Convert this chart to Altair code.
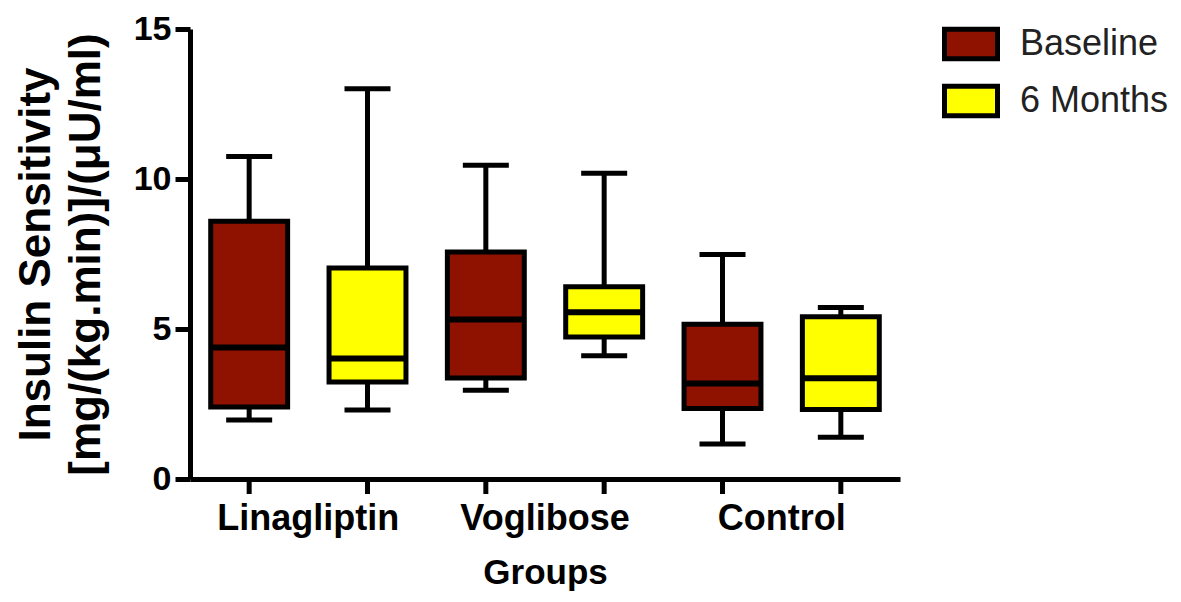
import altair as alt
import pandas as pd

groups = ["Linagliptin", "Linagliptin", "Voglibose", "Voglibose", "Control", "Control"]
periods = ["Baseline", "6 Months", "Baseline", "6 Months", "Baseline", "6 Months"]
whisker_low = [1.97, 2.30, 2.96, 4.11, 1.17, 1.39]
q1 = [2.40, 3.23, 3.37, 4.73, 2.35, 2.32]
median = [4.38, 4.02, 5.32, 5.56, 3.18, 3.36]
q3 = [8.59, 7.03, 7.57, 6.41, 5.16, 5.41]
whisker_high = [10.75, 13.01, 10.46, 10.19, 7.48, 5.72]

group_order = ["Linagliptin", "Voglibose", "Control"]
period_order = ["Baseline", "6 Months"]
period_colors = ["#8f1100", "#ffff00"]
y_ticks = [0, 5, 10, 15]
y_title = ["Insulin Sensitivity", "[mg/(kg.min)]/(\u03bcU/ml)"]
x_title = "Groups"

df = pd.DataFrame({
    "group": groups, "period": periods,
    "lo": whisker_low, "q1": q1, "med": median, "q3": q3, "hi": whisker_high,
})

FONT = "Liberation Sans"
W, H = 710, 450
LW = 5

xscale = alt.Scale(domain=group_order, paddingInner=0, paddingOuter=0)
oscale = alt.Scale(domain=period_order, paddingInner=0.35, paddingOuter=0.175)
yscale = alt.Scale(domain=[0, 15], nice=False)

x_axis = alt.Axis(
    title=x_title, labelAngle=0, labelOverlap=False, labelLimit=400,
    labelFontSize=36, labelFontWeight="bold", labelPadding=22,
    titleFontSize=35, titleFontWeight="bold", titlePadding=19, ticks=False,
)
y_axis = alt.Axis(
    values=y_ticks, title=y_title, titleFontSize=44, titleFontWeight="bold",
    titleLineHeight=50, titleAngle=270, titleAlign="center", titleBaseline="top",
    titleX=-176, titleY=H / 2, labelFontSize=34, labelFontWeight="bold",
    labelPadding=4, tickSize=15, grid=False,
)

X = alt.X("group:N", scale=xscale, sort=group_order, axis=x_axis)
XO = alt.XOffset("period:N", scale=oscale, sort=period_order)

base = alt.Chart(df)

whisker = base.mark_rule(color="black", strokeWidth=LW, opacity=1).encode(
    x=X, xOffset=XO, y=alt.Y("lo:Q", scale=yscale, axis=y_axis), y2="hi:Q"
)
xticks = base.mark_rule(color="black", strokeWidth=LW, opacity=1).encode(
    x=X, xOffset=XO, y=alt.value(H), y2=alt.value(H + 15)
)
cap_lo = base.mark_tick(color="black", size=46, thickness=LW, opacity=1).encode(
    x=X, xOffset=XO, y=alt.Y("lo:Q", scale=yscale)
)
cap_hi = base.mark_tick(color="black", size=46, thickness=LW, opacity=1).encode(
    x=X, xOffset=XO, y=alt.Y("hi:Q", scale=yscale)
)
box = base.mark_bar(stroke="black", strokeWidth=LW, opacity=1).encode(
    x=X, xOffset=XO,
    y=alt.Y("q1:Q", scale=yscale),
    y2="q3:Q",
    color=alt.Color(
        "period:N",
        scale=alt.Scale(domain=period_order, range=period_colors),
        legend=alt.Legend(
            title=None, orient="none", legendX=752, legendY=-14,
            symbolType="M-1,-0.56H1V0.56H-1Z", symbolSize=2809,
            symbolStrokeColor="black", symbolStrokeWidth=LW, symbolOpacity=1,
            labelFontSize=36, labelColor="#222222", labelOffset=20,
            rowPadding=3, padding=0, labelFont=FONT,
        ),
    ),
)
med_tick = base.mark_tick(color="black", size=80, thickness=6, opacity=1).encode(
    x=X, xOffset=XO, y=alt.Y("med:Q", scale=yscale)
)

chart = alt.layer(whisker, xticks, cap_lo, cap_hi, box, med_tick).properties(
    width=W, height=H,
    autosize=alt.AutoSizeParams(type="none"),
    padding={"left": 182, "top": 21, "right": 272, "bottom": 114},
    background="white",
).configure_view(stroke=None).configure_axis(
    labelFont=FONT, titleFont=FONT, labelColor="black", titleColor="black",
    domainColor="black", domainWidth=LW, tickColor="black", tickWidth=LW,
    grid=False,
).configure_legend(labelFont=FONT)

chart.save("out.html", embed_options={"renderer": "svg", "actions": False})
